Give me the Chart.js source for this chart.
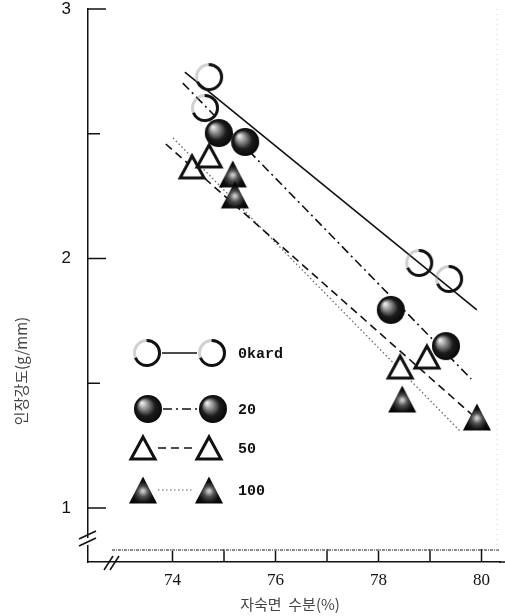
<!DOCTYPE html>
<html>
<head>
<meta charset="utf-8">
<script src="https://cdn.jsdelivr.net/npm/chart.js@4.4.1/dist/chart.umd.min.js"></script>
<style>
  html, body { margin: 0; padding: 0; background: #fff; }
  #wrap { width: 505px; height: 616px; position: relative; }
</style>
</head>
<body>
<div id="wrap"><canvas id="chart"></canvas></div>
<script>
// measured points: noodle moisture (%) vs tensile strength (g/mm)
const okardX = [74.71, 74.63, 78.79, 79.37];
const okardY = [2.727, 2.603, 1.982, 1.918];
const s20X = [74.90, 75.41, 78.24, 79.31];
const s20Y = [2.503, 2.467, 1.794, 1.649];
const s50X = [74.38, 74.71, 78.42, 78.94];
const s50Y = [2.367, 2.411, 1.565, 1.605];
const s100X = [75.17, 75.21, 78.46, 79.91];
const s100Y = [2.339, 2.255, 1.437, 1.365];

// fitted lines (start, end)
const fitOkardX = [74.24, 79.91];
const fitOkardY = [2.747, 1.794];
const fit20X = [74.20, 79.80];
const fit20Y = [2.703, 1.517];
const fit50X = [73.87, 79.93];
const fit50Y = [2.459, 1.353];
const fit100X = [74.01, 79.60];
const fit100Y = [2.483, 1.305];

const seriesLabels = ['0kard', '20', '50', '100'];
const xTicks = [74, 76, 78, 80];
const xTickMarks = [74, 75, 76, 77, 78, 79, 80];
const yTicks = [1, 2, 3];
const yHalfTicks = [1.5, 2.5];
const baseLineValue = 0.832;

const xTitle = '자숙면  수분(%)';
const yTitle = '인장강도(g/mm)';

const pts = (xs, ys) => xs.map((x, i) => ({ x, y: ys[i] }));

const makeMarker = (draw) => {
  const c = document.createElement('canvas');
  c.width = 34;
  c.height = 34;
  draw(c.getContext('2d'), 17, 17);
  return c;
};

const drawRing = (ctx, cx, cy) => {
  const r = 12.5;
  ctx.lineWidth = 3;
  ctx.strokeStyle = 'rgba(140,140,140,0.4)';
  ctx.beginPath();
  ctx.arc(cx, cy, r, 0, Math.PI * 2);
  ctx.stroke();
  ctx.strokeStyle = '#111';
  ctx.beginPath();
  ctx.arc(cx, cy, r, -1.6, 2.75);
  ctx.stroke();
};

const drawBall = (ctx, cx, cy) => {
  const g = ctx.createRadialGradient(cx - 6, cy - 6, 1, cx + 1, cy + 1, 16);
  g.addColorStop(0, '#e6e6e6');
  g.addColorStop(0.28, '#808080');
  g.addColorStop(0.55, '#1c1c1c');
  g.addColorStop(1, '#000');
  ctx.fillStyle = g;
  ctx.beginPath();
  ctx.arc(cx, cy, 14, 0, Math.PI * 2);
  ctx.fill();
};

const triPath = (ctx, cx, cy, w, h) => {
  ctx.beginPath();
  ctx.moveTo(cx, cy - h / 2);
  ctx.lineTo(cx + w / 2, cy + h / 2);
  ctx.lineTo(cx - w / 2, cy + h / 2);
  ctx.closePath();
};

const drawOpenTri = (ctx, cx, cy) => {
  triPath(ctx, cx, cy, 24, 22);
  ctx.fillStyle = '#fff';
  ctx.fill();
  ctx.lineWidth = 3;
  ctx.lineJoin = 'miter';
  ctx.strokeStyle = '#111';
  ctx.stroke();
};

const drawFillTri = (ctx, cx, cy) => {
  triPath(ctx, cx, cy, 28, 27);
  const g = ctx.createRadialGradient(cx, cy + 1, 1, cx, cy + 3, 15);
  g.addColorStop(0, '#c8c8c8');
  g.addColorStop(0.3, '#505050');
  g.addColorStop(0.65, '#111');
  g.addColorStop(1, '#000');
  ctx.fillStyle = g;
  ctx.fill();
};

const ringImg = makeMarker(drawRing);
const ballImg = makeMarker(drawBall);
const openTriImg = makeMarker(drawOpenTri);
const fillTriImg = makeMarker(drawFillTri);

const markers = [ringImg, ballImg, openTriImg, fillTriImg];
const dashes = [[], [9, 4, 2, 4], [8, 5], [1.5, 2.5]];
const lineColors = ['#111', '#111', '#111', '#666'];
const lineWidths = [1.6, 1.6, 1.6, 1.3];

const pointSet = (label, xs, ys, img) => ({
  label,
  data: pts(xs, ys),
  pointStyle: img,
  showLine: false,
  clip: false
});

const lineSet = (xs, ys, i) => ({
  label: seriesLabels[i] + ' fit',
  data: pts(xs, ys),
  showLine: true,
  pointRadius: 0,
  borderColor: lineColors[i],
  borderWidth: lineWidths[i],
  borderDash: dashes[i],
  clip: false
});

const decorPlugin = {
  id: 'decor',
  beforeDatasetsDraw(chart) {
    const { ctx, chartArea, width, scales: { x, y } } = chart;
    ctx.save();
    ctx.strokeStyle = '#111';
    ctx.lineWidth = 1.5;

    // x axis runs to the page edge
    ctx.beginPath();
    ctx.moveTo(chartArea.right - 1, chartArea.bottom);
    ctx.lineTo(width, chartArea.bottom);
    ctx.stroke();

    // tick marks pointing inward
    xTickMarks.forEach((v) => {
      const px = x.getPixelForValue(v);
      ctx.beginPath();
      ctx.moveTo(px, chartArea.bottom);
      ctx.lineTo(px, chartArea.bottom - 13);
      ctx.stroke();
    });
    yTicks.forEach((v) => {
      const py = y.getPixelForValue(v);
      ctx.beginPath();
      ctx.moveTo(chartArea.left, py);
      ctx.lineTo(chartArea.left + 18, py);
      ctx.stroke();
    });
    yHalfTicks.forEach((v) => {
      const py = y.getPixelForValue(v);
      ctx.beginPath();
      ctx.moveTo(chartArea.left, py);
      ctx.lineTo(chartArea.left + 12, py);
      ctx.stroke();
    });

    // speckled base line
    const by = y.getPixelForValue(baseLineValue);
    ctx.strokeStyle = '#8a8a8a';
    ctx.lineWidth = 2;
    ctx.setLineDash([3, 1, 1, 1]);
    ctx.beginPath();
    ctx.moveTo(chartArea.left + 24, by);
    ctx.lineTo(width - 5, by);
    ctx.stroke();

    // faint right edge
    ctx.strokeStyle = '#d4d4d4';
    ctx.lineWidth = 1;
    ctx.setLineDash([1, 4]);
    ctx.beginPath();
    ctx.moveTo(width - 8, chartArea.top);
    ctx.lineTo(width - 8, by);
    ctx.stroke();
    ctx.setLineDash([]);

    // axis breaks
    const L = chartArea.left;
    const B = chartArea.bottom;
    ctx.fillStyle = '#fff';
    ctx.fillRect(L - 2, B - 24, 4, 7);
    ctx.strokeStyle = '#111';
    ctx.lineWidth = 1.5;
    [[-9, -23, 8, -31], [-9, -16, 8, -24], [16, 8, 25, -6], [22, 8, 31, -6]].forEach(([a, b, c, d]) => {
      ctx.beginPath();
      ctx.moveTo(L + a, B + b);
      ctx.lineTo(L + c, B + d);
      ctx.stroke();
    });
    ctx.restore();
  },
  afterDatasetsDraw(chart) {
    const { ctx } = chart;
    ctx.save();

    // legend: marker - line - marker  label
    const rows = [353, 409, 448, 490];
    const left = [147, 148, 143, 143];
    const right = [212, 213, 209, 209];
    rows.forEach((ry, i) => {
      const m = markers[i];
      ctx.strokeStyle = lineColors[i];
      ctx.lineWidth = i === 3 ? 1.2 : 1.6;
      ctx.setLineDash(dashes[i]);
      ctx.beginPath();
      ctx.moveTo(left[i] + 15, ry);
      ctx.lineTo(right[i] - 15, ry);
      ctx.stroke();
      ctx.setLineDash([]);
      ctx.drawImage(m, left[i] - m.width / 2, ry - m.height / 2);
      ctx.drawImage(m, right[i] - m.width / 2, ry - m.height / 2);
      ctx.fillStyle = '#111';
      ctx.font = 'bold 15px "Liberation Mono"';
      ctx.textAlign = 'left';
      ctx.textBaseline = 'middle';
      ctx.fillText(seriesLabels[i], 238, ry + 1);
    });

    // axis titles
    ctx.fillStyle = '#444';
    ctx.font = '15px "Noto Sans CJK KR"';
    ctx.textAlign = 'center';
    ctx.textBaseline = 'middle';
    ctx.fillText(xTitle, 290, 604);
    ctx.translate(21, 371);
    ctx.rotate(-Math.PI / 2);
    ctx.fillText(yTitle, 0, 0);
    ctx.restore();
  }
};

const initChart = () => {
  const ctx = document.querySelector('#chart');
  new Chart(ctx, {
    type: 'scatter',
    data: {
      datasets: [
        pointSet(seriesLabels[0], okardX, okardY, ringImg),
        pointSet(seriesLabels[1], s20X, s20Y, ballImg),
        pointSet(seriesLabels[2], s50X, s50Y, openTriImg),
        pointSet(seriesLabels[3], s100X, s100Y, fillTriImg),
        lineSet(fitOkardX, fitOkardY, 0),
        lineSet(fit20X, fit20Y, 1),
        lineSet(fit50X, fit50Y, 2),
        lineSet(fit100X, fit100Y, 3)
      ]
    },
    options: {
      responsive: true,
      maintainAspectRatio: false,
      animation: false,
      layout: { padding: { top: 9, right: 0, left: 0, bottom: 0 } },
      plugins: {
        legend: { display: false },
        tooltip: { enabled: false }
      },
      scales: {
        x: {
          type: 'linear',
          position: 'bottom',
          min: 72.359,
          max: 80.359,
          afterFit: (s) => {
            s.height = 54;
            s.paddingLeft = 0;
            s.paddingRight = 0;
          },
          afterBuildTicks: (s) => { s.ticks = xTicks.map((v) => ({ value: v })); },
          grid: { display: false },
          border: { display: true, color: '#111', width: 1.5 },
          ticks: {
            color: '#111',
            font: { family: 'Liberation Serif', size: 17 },
            padding: 0,
            maxRotation: 0,
            autoSkip: false
          }
        },
        y: {
          type: 'linear',
          min: 0.7836,
          max: 3,
          afterFit: (s) => {
            s.width = 88;
            s.paddingTop = 0;
            s.paddingBottom = 0;
          },
          afterBuildTicks: (s) => { s.ticks = yTicks.map((v) => ({ value: v })); },
          grid: { display: false },
          border: { display: true, color: '#111', width: 1.5 },
          ticks: {
            color: '#111',
            font: { family: 'Liberation Sans', size: 17 },
            padding: 9
          }
        }
      }
    },
    plugins: [decorPlugin]
  });
};

document.addEventListener('DOMContentLoaded', initChart);
</script>
</body>
</html>
